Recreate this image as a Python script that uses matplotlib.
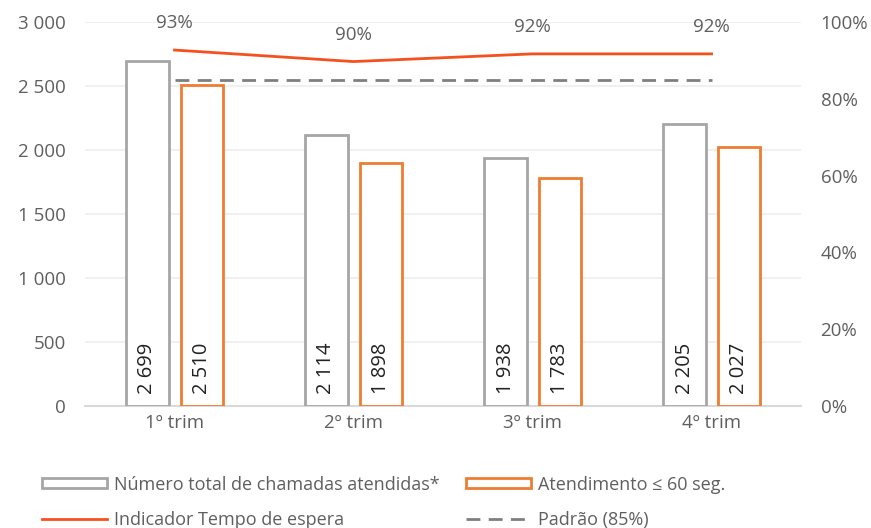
import matplotlib
matplotlib.use("Agg")
import matplotlib.pyplot as plt
import numpy as np
from matplotlib.patches import Patch
from matplotlib.lines import Line2D

categories = ["1º trim", "2º trim", "3º trim", "4º trim"]
total_calls = [2699, 2114, 1938, 2205]
within_60s = [2510, 1898, 1783, 2027]
wait_indicator = [92.7, 89.7, 91.7, 91.7]
wait_labels = ["93%", "90%", "92%", "92%"]
standard = 85

plt.rcParams['font.family'] = ['Open Sans', 'DejaVu Sans']
TXT = "#5f5f5f"
GRAY = "#a6a6a6"
ORANGE = "#ef7d31"
RED = "#f4511e"
DASH = "#7f7f7f"

fig = plt.figure(figsize=(8.71, 5.28), dpi=100)
ax = fig.add_axes([0.0976, 0.2311, 0.8221, 0.7272])
ax2 = ax.twinx()

x = np.arange(len(categories))
w = 0.235
off = 0.151
b1 = ax.bar(x - off, total_calls, w, facecolor="white", edgecolor=GRAY, linewidth=2, zorder=3)
b2 = ax.bar(x + off, within_60s, w, facecolor="white", edgecolor=ORANGE, linewidth=2, zorder=3)

def fmt(v):
    return f"{v:,}".replace(",", " ")

for bars, vals in ((b1, total_calls), (b2, within_60s)):
    for r, v in zip(bars, vals):
        ax.text(r.get_x() + r.get_width() / 2, 95, fmt(v), rotation=90,
                ha="center", va="bottom", fontsize=14.5, color="#222222", zorder=4)

ax.set_xlim(-0.5, 3.5)
ax.set_ylim(0, 3000)
ax.set_yticks(range(0, 3001, 500))
ax.set_yticklabels([fmt(v) for v in range(0, 3001, 500)])
ax.set_xticks(x)
ax.set_xticklabels(categories)
ax.grid(axis="y", color="#eeeeee", linewidth=1.2, zorder=0)
ax.set_axisbelow(True)
for s in ["top", "right", "left"]:
    ax.spines[s].set_visible(False)
ax.spines["bottom"].set_color("#d9d9d9")
ax.spines["bottom"].set_linewidth(1.5)
ax.tick_params(axis="both", length=0, labelsize=13.5, colors=TXT)
ax.tick_params(axis="y", pad=14)
ax.tick_params(axis="x", pad=6)

ax2.plot(x, wait_indicator, color=RED, linewidth=2, zorder=5)
ax2.plot([x[0], x[-1]], [standard, standard], color=DASH, linewidth=2,
         linestyle=(0, (5, 3)), zorder=5)
for xi, v, lab in zip(x, wait_indicator, wait_labels):
    ax2.annotate(lab, (xi, v), xytext=(0, 27), textcoords="offset pixels",
                 ha="center", va="center", fontsize=13.5, color=TXT, annotation_clip=False)
ax2.set_ylim(0, 100)
ax2.set_yticks(range(0, 101, 20))
ax2.set_yticklabels([f"{v}%" for v in range(0, 101, 20)])
for s in ["top", "right", "left", "bottom"]:
    ax2.spines[s].set_visible(False)
ax2.tick_params(axis="y", length=0, labelsize=13.5, colors=TXT, pad=14)

h1 = [Patch(facecolor="white", edgecolor=GRAY, linewidth=2),
      Line2D([0], [0], color=RED, linewidth=2)]
l1 = ["Número total de chamadas atendidas*", "Indicador Tempo de espera"]
h2 = [Patch(facecolor="white", edgecolor=ORANGE, linewidth=2),
      Line2D([0], [0], color=DASH, linewidth=2, linestyle=(0, (5, 3)))]
l2 = ["Atendimento ≤ 60 seg.", "Padrão (85%)"]
kw = dict(frameon=False, fontsize=13, labelcolor=TXT, handlelength=3.6,
          handleheight=0.5, handletextpad=0.4, labelspacing=0.95, borderpad=0,
          borderaxespad=0, loc="upper left")
leg1 = fig.legend(h1, l1, bbox_to_anchor=(0.048, 0.099), **kw)
leg2 = fig.legend(h2, l2, bbox_to_anchor=(0.535, 0.099), **kw)

fig.savefig("out.png", dpi=100)
